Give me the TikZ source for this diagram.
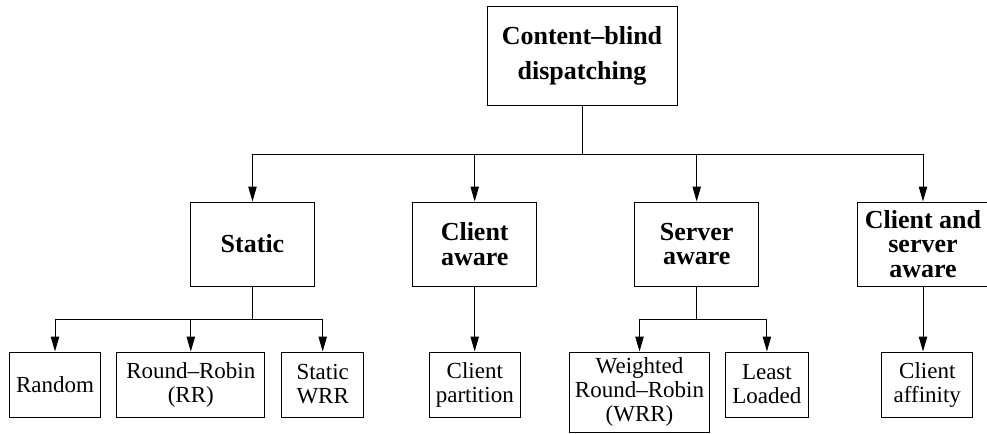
\documentclass[tikz,border=0pt]{standalone}
\usepackage{fontspec}
\setmainfont{LiberationSerif}[Extension=.ttf, UprightFont=*-Regular, BoldFont=*-Bold, ItalicFont=*-Italic, BoldItalicFont=*-BoldItalic]
\usetikzlibrary{arrows.meta}
\begin{document}
\begin{tikzpicture}[x=0.5pt, y=-0.5pt, line width=0.5pt,
  hbox/.style={draw, align=center, inner sep=0pt, font=\rmfamily\fontsize{13}{12.4}\selectfont\bfseries},
  lbox/.style={draw, align=center, inner sep=0pt, font=\rmfamily\fontsize{11.5}{12}\selectfont, minimum height=32.5pt},
  arr/.style={-{Triangle[length=7.5pt,width=4.2pt]}}]
\useasboundingbox (0,0) rectangle (987,434);
% root
\node[hbox, font=\rmfamily\fontsize{13}{17.5}\selectfont\bfseries, minimum width=95pt, minimum height=49.5pt] (root) at (582,55.5) {Content--blind\\dispatching};
% second level
\node[hbox, minimum width=62pt, minimum height=42pt] (static) at (252.5,244) {Static};
\node[hbox, minimum width=62pt, minimum height=42pt] (cliaware) at (474.7,244) {Client\\aware};
\node[hbox, minimum width=62pt, minimum height=42pt] (srvaware) at (696.7,244) {Server\\aware};
\node[hbox, minimum width=66pt, minimum height=42pt] (bothaware) at (923,244) {Client and\\server\\aware};
% leaves
\node[lbox, minimum width=45.3pt] (random) at (55,384.5) {Random};
\node[lbox, minimum width=74pt] (rr) at (190.8,384.5) {Round--Robin\\(RR)};
\node[lbox, minimum width=41pt] (swrr) at (322.7,384.5) {Static\\WRR};
\node[lbox, minimum width=45.2pt] (cpart) at (474.8,384.5) {Client\\partition};
\node[lbox, minimum width=70pt, minimum height=40.3pt] (wrr) at (639.5,392.3) {Weighted\\Round--Robin\\(WRR)};
\node[lbox, minimum width=41.2pt] (least) at (766.9,384.5) {Least\\Loaded};
\node[lbox, minimum width=45.5pt] (caff) at (927.3,384.5) {Client\\affinity};
% bars
\coordinate (bar1) at (0,154);
\coordinate (bar2) at (0,319);
\draw (root.south) -- (root.south |- bar1);
\foreach \n in {static,cliaware,srvaware,bothaware}
  \draw[arr] (root.south |- bar1) -| (\n.north);
\draw (static.south) -- (static.south |- bar2);
\foreach \n in {random,rr,swrr}
  \draw[arr] (static.south |- bar2) -| (\n.north);
\draw[arr] (cliaware.south) -- (cliaware.south |- cpart.north);
\draw (srvaware.south) -- (srvaware.south |- bar2);
\foreach \n in {wrr,least}
  \draw[arr] (srvaware.south |- bar2) -| (\n.north);
\draw[arr] (bothaware.south) -- (bothaware.south |- caff.north);
\end{tikzpicture}
\end{document}
